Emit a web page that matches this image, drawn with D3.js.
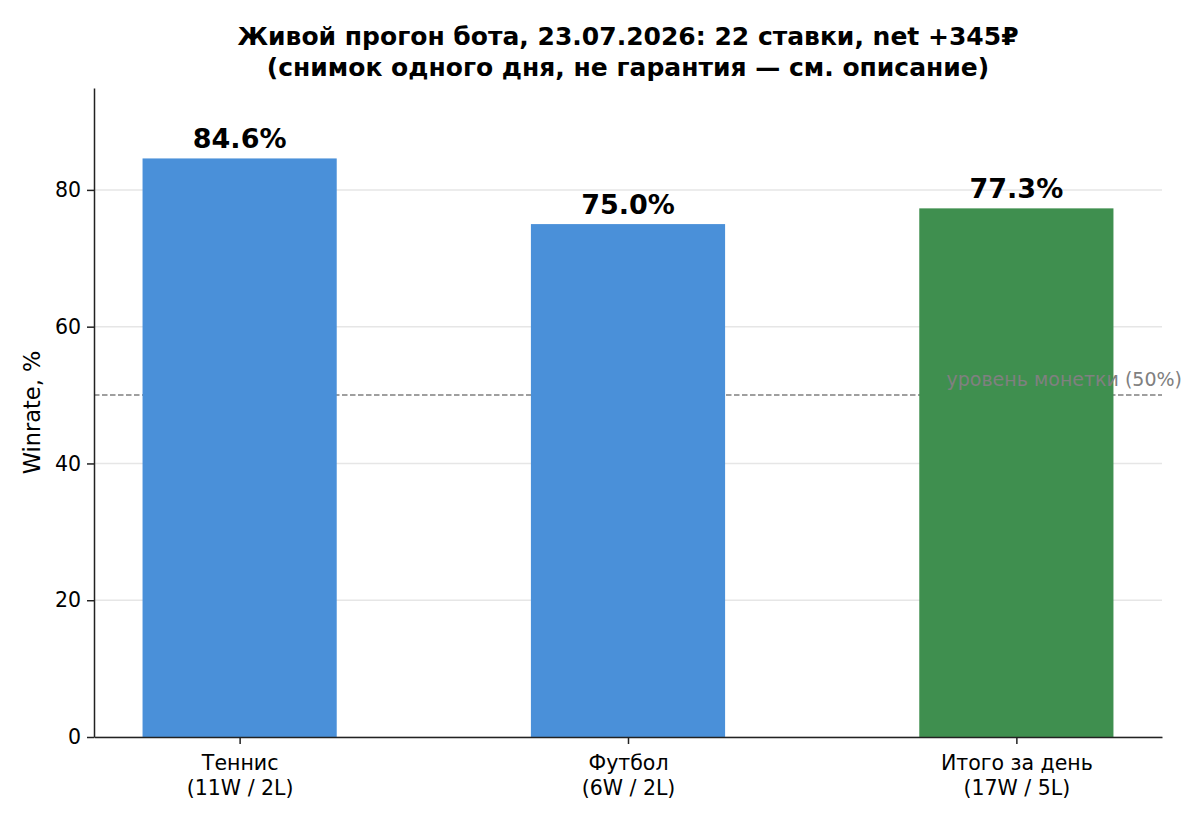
<!DOCTYPE html>
<html>
<head>
<meta charset="utf-8">
<script src="https://cdn.jsdelivr.net/npm/d3@7"></script>
<style>
  body { margin: 0; background: #fff; }
  svg { font-family: "DejaVu Sans", sans-serif; }
</style>
</head>
<body>
<svg id="chart" width="1200" height="825"></svg>
<script>
const categories = ["Теннис\n(11W / 2L)", "Футбол\n(6W / 2L)", "Итого за день\n(17W / 5L)"];
const winrates = [84.6, 75.0, 77.3];
const barColors = ["#4a90d9", "#4a90d9", "#3f8f4f"];
const yTicks = [0, 20, 40, 60, 80];
const baseline = 50;
const baselineLabel = "уровень монетки (50%)";
const titleLines = ["Живой прогон бота, 23.07.2026: 22 ставки, net +345₽",
                    "(снимок одного дня, не гарантия — см. описание)"];

const svg = d3.select("#chart");
const margin = { top: 88, right: 38, bottom: 88, left: 94 };
const width = 1200, height = 825;

const x = d3.scaleLinear()
  .domain([-0.375, categories.length - 1 + 0.375])
  .range([margin.left, width - margin.right]);

const y = d3.scaleLinear()
  .domain([0, 94.9])
  .range([height - margin.bottom, margin.top]);

const barW = x(0.5) - x(0);

// grid
svg.append("g")
  .selectAll("line")
  .data(yTicks)
  .join("line")
  .attr("x1", margin.left)
  .attr("x2", width - margin.right)
  .attr("y1", d => y(d))
  .attr("y2", d => y(d))
  .attr("stroke", "#e6e6e6")
  .attr("stroke-width", 1.5);

// coin-flip level
svg.append("line")
  .attr("x1", margin.left)
  .attr("x2", width - margin.right)
  .attr("y1", y(baseline))
  .attr("y2", y(baseline))
  .attr("stroke", "#808080")
  .attr("stroke-width", 1.5)
  .attr("stroke-dasharray", "5.5,2.5");

// bars
svg.append("g")
  .selectAll("rect")
  .data(winrates)
  .join("rect")
  .attr("x", (d, i) => x(i) - barW / 2)
  .attr("y", d => y(d))
  .attr("width", barW)
  .attr("height", d => y(0) - y(d))
  .attr("fill", (d, i) => barColors[i]);

// value labels
svg.append("g")
  .selectAll("text")
  .data(winrates)
  .join("text")
  .attr("x", (d, i) => x(i))
  .attr("y", d => y(d) - 10)
  .attr("text-anchor", "middle")
  .style("font-size", "27px")
  .style("font-weight", "bold")
  .text(d => d.toFixed(1) + "%");

svg.append("text")
  .attr("x", x(1.82))
  .attr("y", y(baseline) - 9)
  .style("font-size", "19px")
  .attr("fill", "#808080")
  .text(baselineLabel);

// axes
const yAxis = svg.append("g")
  .attr("transform", `translate(${margin.left},0)`)
  .call(d3.axisLeft(y).tickValues(yTicks).tickSize(7).tickPadding(6).tickSizeOuter(0));
yAxis.select(".domain").attr("stroke", "#222").attr("stroke-width", 1.5);
yAxis.selectAll(".tick line").attr("stroke", "#222").attr("stroke-width", 1.5);
yAxis.selectAll(".tick text").style("font-size", "20.5px").attr("fill", "#000")
  .style("font-family", "DejaVu Sans");

const xAxis = svg.append("g")
  .attr("transform", `translate(0,${y(0)})`)
  .call(d3.axisBottom(x).tickValues(d3.range(categories.length)).tickSize(7).tickSizeOuter(0).tickFormat(""));
xAxis.select(".domain").attr("stroke", "#222").attr("stroke-width", 1.5);
xAxis.selectAll(".tick line").attr("stroke", "#222").attr("stroke-width", 1.5);
xAxis.selectAll(".tick").each(function(d) {
  const t = d3.select(this).append("text")
    .attr("text-anchor", "middle")
    .attr("fill", "#000")
    .style("font-size", "20.5px")
    .style("font-family", "DejaVu Sans");
  categories[d].split("\n").forEach((line, k) => {
    t.append("tspan").attr("x", 0).attr("y", 33 + k * 25).text(line);
  });
});

svg.append("text")
  .attr("transform", `translate(40,${(y(0) + y(94.9)) / 2}) rotate(-90)`)
  .attr("text-anchor", "middle")
  .style("font-size", "22.5px")
  .text("Winrate, %");

svg.append("g")
  .selectAll("text")
  .data(titleLines)
  .join("text")
  .attr("x", x(1))
  .attr("y", (d, i) => 45 + i * 31)
  .attr("text-anchor", "middle")
  .style("font-size", "25px")
  .style("font-weight", "bold")
  .text(d => d);
</script>
</body>
</html>
